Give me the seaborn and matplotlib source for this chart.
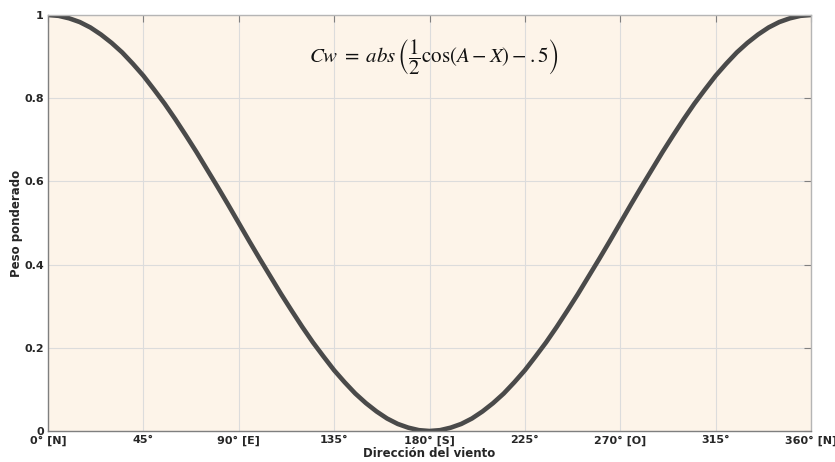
import matplotlib
matplotlib.use("Agg")
import matplotlib.pyplot as plt
import seaborn as sns
import pandas as pd

# Wind direction (degrees) and weighted value
direccion = list(range(0, 365, 5))
peso = [1.000, 0.998, 0.992, 0.983, 0.970, 0.953, 0.933, 0.910, 0.883, 0.854,
        0.821, 0.787, 0.750, 0.711, 0.671, 0.629, 0.587, 0.544, 0.500, 0.456,
        0.413, 0.371, 0.329, 0.289, 0.250, 0.213, 0.179, 0.146, 0.117, 0.090,
        0.067, 0.047, 0.030, 0.017, 0.008, 0.002, 0.000, 0.002, 0.008, 0.017,
        0.030, 0.047, 0.067, 0.090, 0.117, 0.146, 0.179, 0.213, 0.250, 0.289,
        0.329, 0.371, 0.413, 0.456, 0.500, 0.544, 0.587, 0.629, 0.671, 0.711,
        0.750, 0.787, 0.821, 0.854, 0.883, 0.910, 0.933, 0.953, 0.970, 0.983,
        0.992, 0.998, 1.000]

x_ticks = [0, 45, 90, 135, 180, 225, 270, 315, 360]
x_ticklabels = ["0° [N]", "45°", "90° [E]", "135°", "180° [S]", "225°", "270° [O]", "315°", "360° [N]"]
y_ticks = [0, 0.2, 0.4, 0.6, 0.8, 1]
y_ticklabels = ["0", "0.2", "0.4", "0.6", "0.8", "1"]

df = pd.DataFrame({"dir": direccion, "peso": peso})

sns.set_style("white")
plt.rcParams["font.family"] = ["DejaVu Sans"]
plt.rcParams["mathtext.fontset"] = "stix"

fig = plt.figure(figsize=(8.35, 4.62), dpi=100)
ax = fig.add_axes([48/835, 1-431/462, (811-48)/835, (431-15)/462])
ax.set_facecolor("#fdf4e9")

sns.lineplot(data=df, x="dir", y="peso", ax=ax, color="#4a4a4a", linewidth=3.3)

ax.set_xlim(0, 360)
ax.set_ylim(0, 1)
ax.set_xticks(x_ticks)
ax.set_xticklabels(x_ticklabels, fontsize=8, fontweight="bold", color="#262626")
ax.set_yticks(y_ticks)
ax.set_yticklabels(y_ticklabels, fontsize=8, fontweight="bold", color="#262626")
ax.grid(True, color="#dcdcdc", linewidth=0.8)
ax.set_axisbelow(True)
ax.tick_params(axis="both", direction="in", length=5, width=0.8, color="#808080",
               top=True, right=True, pad=3)
for s in ["left", "bottom"]:
    ax.spines[s].set_color("#7f7f7f")
    ax.spines[s].set_linewidth(1.0)
for s in ["top", "right"]:
    ax.spines[s].set_color("#b5b5b5")
    ax.spines[s].set_linewidth(1.0)

ax.set_xlabel("Dirección del viento", fontsize=8.5, fontweight="bold", color="#262626", labelpad=1)
ax.set_ylabel("Peso ponderado", fontsize=8.5, fontweight="bold", color="#262626", labelpad=1)

ax.text(0.506, 0.9, r"$Cw\;=\;abs\,\left(\dfrac{1}{2}\cos(A-X)-.5\right)$",
        transform=ax.transAxes, ha="center", va="center", fontsize=15, color="#111111")

fig.savefig("out.png", dpi=100, facecolor="white")
